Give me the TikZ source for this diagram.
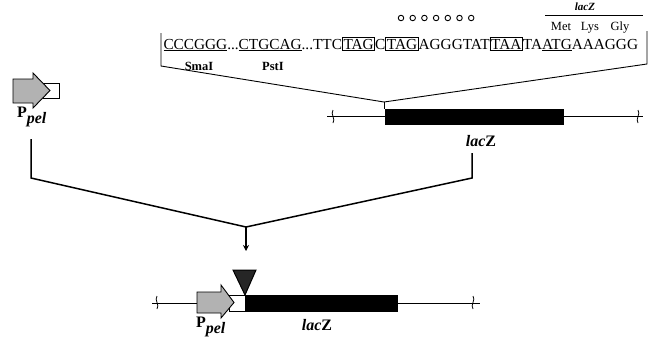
\documentclass[tikz,border=0pt]{standalone}
\usepackage{fontspec}
\setmainfont{Liberation Serif}
\usetikzlibrary{arrows.meta}
\newcommand{\bxx}[1]{{\setlength{\fboxsep}{0.6pt}\setlength{\fboxrule}{0.9pt}\fbox{#1}}}
\begin{document}
\begin{tikzpicture}[x=1pt,y=-1pt,line width=1pt]
\useasboundingbox (0,0) rectangle (648,341);
\tikzset{
  seq/.style={font=\fontsize{15.3}{15}\selectfont, inner sep=0pt, anchor=base west},
  enz/.style={font=\fontsize{12.5}{12}\selectfont\bfseries, inner sep=0pt},
  aa/.style={font=\fontsize{12.5}{12}\selectfont, inner sep=0pt, anchor=base},
  biglab/.style={font=\fontsize{16}{16}\selectfont\bfseries, inner sep=0pt},
  dna/.style={line width=1pt},
  conn/.style={line width=1.5pt},
  blackbox/.style={fill=black, draw=black},
  whitebox/.style={fill=white, draw=black, line width=0.9pt},
  prom/.style={fill=gray!60, draw=black, line width=0.9pt},
  sd/.style={circle, draw=black, line width=0.9pt, inner sep=0pt, minimum size=5.5pt},
  brk/.style={line width=0.8pt}
}
% ---------- sequence ----------
\node[seq] (seq) at (163,49) {\underline{CCCGGG}...\underline{CTGCAG}...TTC\bxx{TAG}C\bxx{TAG}AGGGTAT\bxx{TAA}TA\underline{ATG}AAAGGG};
\node[enz] (smai) at (199,66) {SmaI};
\node[enz] (psti) at (273,66) {PstI};
\foreach \i in {0,...,6} { \node[sd] (c\i) at (401+11.7*\i,18) {}; }
\node[font=\fontsize{11}{11}\selectfont\bfseries\itshape, inner sep=0pt, anchor=base] (lz) at (585,10) {lacZ};
\coordinate (ola) at (545,15);
\coordinate (olb) at (643,15);
\draw[line width=0.8pt] (ola) -- (olb);
\node[aa] (met) at (561,30) {Met};
\node[aa] (lys) at (590,30) {Lys};
\node[aa] (gly) at (620,30) {Gly};
% bracket
\coordinate (bl1) at (161,33);
\coordinate (bl2) at (161,66);
\coordinate (br1) at (647,31);
\coordinate (br2) at (647,64);
\coordinate (bm) at (384,102);
\draw[line width=0.9pt] (bl1) -- (bl2) -- (bm) -- (br2) -- (br1);
\draw[line width=0.9pt] (bm) -- (384,109);
% ---------- top construct ----------
\coordinate (ta) at (327,116.5);
\coordinate (tb) at (643,116.5);
\draw[dna] (ta) -- (tb);
\node[blackbox, minimum width=178pt, minimum height=15pt, inner sep=0pt, anchor=north west] (lacztop) at (385,109) {};
\node[biglab] (lacztoplab) at (481,141) {\textit{lac}Z};
\draw[brk] (333,110) .. controls (330,114) and (336,119) .. (333,123);
\draw[brk] (638,110) .. controls (641,114) and (635,119) .. (638,123);
% ---------- left promoter ----------
\node[whitebox, minimum width=16pt, minimum height=15pt, inner sep=0pt, anchor=west] (pw) at (43,90.5) {};
\draw[prom] (13,79) -- (33,79) -- (33,73) -- (50,90.5) -- (33,108) -- (33,103) -- (13,103) -- cycle;
\node[font=\fontsize{16}{16}\selectfont\bfseries, inner sep=0pt] (ppel) at (32,117) {P$_{\textit{pel}}$};
% ---------- connectors ----------
\coordinate (l1) at (31,139);
\coordinate (l2) at (31,178);
\coordinate (r1) at (472,153);
\coordinate (r2) at (472,178);
\coordinate (mid) at (246,227);
\coordinate (arr) at (246,251);
\draw[conn] (l1) -- (l2) -- (mid) -- (r2) -- (r1);
\draw[conn,-{Stealth[length=6pt,width=6pt]}] (mid) -- (arr);
% ---------- bottom construct ----------
\coordinate (ba) at (152,303);
\coordinate (bb) at (480,303);
\draw[dna] (ba) -- (bb);
\draw[brk] (157,296) .. controls (154,300) and (160,305) .. (157,309);
\draw[brk] (473,296) .. controls (476,300) and (470,305) .. (473,309);
\node[whitebox, minimum width=16pt, minimum height=16pt, inner sep=0pt, anchor=west] (bw) at (229,303) {};
\draw[prom] (197,292) -- (221,292) -- (221,285) -- (234,302.5) -- (221,318) -- (221,313) -- (197,313) -- cycle;
\node[blackbox, minimum width=152pt, minimum height=16pt, inner sep=0pt, anchor=west] (laczbot) at (245,303) {};
\draw[fill=black!85, draw=black] (233,270) -- (256,270) -- (245,295) -- cycle;
\node[font=\fontsize{16}{16}\selectfont\bfseries, inner sep=0pt] (ppelb) at (211,327) {P$_{\textit{pel}}$};
\node[biglab] (laczbotlab) at (317,325) {\textit{lac}Z};
\end{tikzpicture}
\end{document}
